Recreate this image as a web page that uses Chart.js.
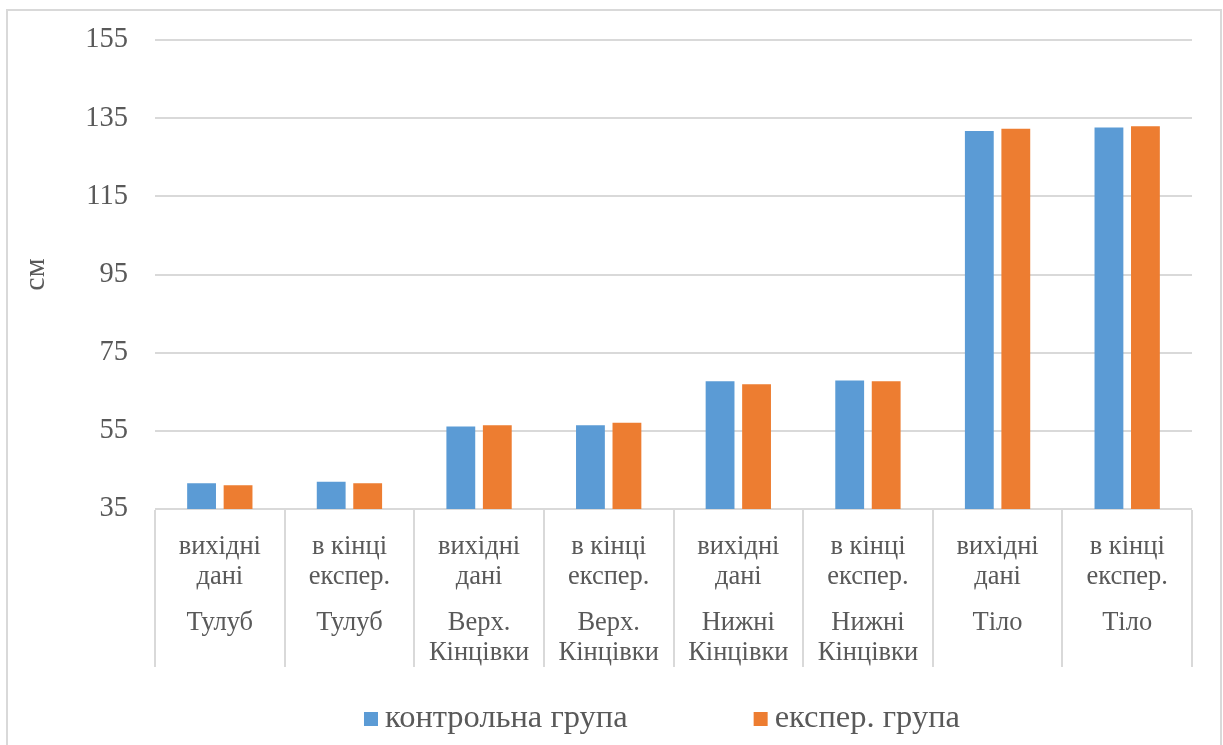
<!DOCTYPE html>
<html>
<head>
<meta charset="utf-8">
<script src="https://cdn.jsdelivr.net/npm/chart.js@4/dist/chart.umd.min.js"></script>
<style>
  html, body { margin: 0; padding: 0; background: #ffffff; }
  #wrap { width: 1223px; height: 745px; position: relative; }
</style>
</head>
<body>
<div id="wrap"><canvas id="chart" width="1223" height="745"></canvas></div>
<script>
// Stage of measurement for each bar pair
const stageLabels = [
  ['вихідні', 'дані'], ['в кінці', 'експер.'],
  ['вихідні', 'дані'], ['в кінці', 'експер.'],
  ['вихідні', 'дані'], ['в кінці', 'експер.'],
  ['вихідні', 'дані'], ['в кінці', 'експер.']
];
// Body segment (outer category level)
const segmentLabels = [
  ['Тулуб'], ['Тулуб'],
  ['Верх.', 'Кінцівки'], ['Верх.', 'Кінцівки'],
  ['Нижні', 'Кінцівки'], ['Нижні', 'Кінцівки'],
  ['Тіло'], ['Тіло']
];
const seriesNames = ['контрольна група', 'експер. група'];
const controlValues = [41.6, 42.0, 56.1, 56.4, 67.7, 67.9, 131.7, 132.6];
const experValues = [41.1, 41.6, 56.4, 57.1, 66.9, 67.7, 132.3, 132.9];
const yTicks = [35, 55, 75, 95, 115, 135, 155];
const yTitle = 'см';

const FONT = '"Liberation Serif", "Times New Roman", serif';
const TEXT = '#595959';
const LINE = '#d9d9d9';
const COLORS = ['#5b9bd5', '#ed7d31'];

// Outer frame, category separators and legend
const decor = {
  id: 'decor',
  beforeDraw(chart) {
    const ctx = chart.ctx;
    ctx.save();
    ctx.fillStyle = '#ffffff';
    ctx.fillRect(0, 0, chart.width, chart.height);
    ctx.strokeStyle = LINE;
    ctx.lineWidth = 2;
    ctx.strokeRect(7, 10, 1214, 760);
    ctx.restore();
  },
  afterDraw(chart) {
    const ctx = chart.ctx;
    const x = chart.scales.x;
    const x2 = chart.scales.x2;
    const n = chart.data.labels.length;
    const step = (x.right - x.left) / n;
    ctx.save();
    ctx.strokeStyle = LINE;
    ctx.lineWidth = 2;
    for (let i = 0; i <= n; i++) {
      const px = Math.round(x.left + i * step);
      ctx.beginPath();
      ctx.moveTo(px, chart.chartArea.bottom + 1);
      ctx.lineTo(px, x2.bottom);
      ctx.stroke();
    }
    // legend
    const boxSize = 14;
    const gapText = 7;
    const gapItem = 126;
    ctx.font = '32.5px ' + FONT;
    ctx.textBaseline = 'middle';
    ctx.textAlign = 'left';
    const items = chart.data.datasets.map(d => ({
      text: d.label, color: d.backgroundColor, w: ctx.measureText(d.label).width
    }));
    const total = items.reduce((s, it) => s + boxSize + gapText + it.w, 0) + gapItem * (items.length - 1);
    let cx = 662 - total / 2;
    const cy = 719;
    items.forEach(it => {
      ctx.fillStyle = it.color;
      ctx.fillRect(cx, cy - boxSize / 2, boxSize, boxSize);
      ctx.fillStyle = TEXT;
      ctx.fillText(it.text, cx + boxSize + gapText, cy - 1);
      cx += boxSize + gapText + it.w + gapItem;
    });
    ctx.restore();
  }
};

new Chart(document.getElementById('chart'), {
  type: 'bar',
  data: {
    labels: stageLabels,
    datasets: [
      { label: seriesNames[0], data: controlValues, backgroundColor: COLORS[0] },
      { label: seriesNames[1], data: experValues, backgroundColor: COLORS[1] }
    ]
  },
  options: {
    responsive: false,
    animation: false,
    devicePixelRatio: 1,
    layout: { padding: { top: 40, right: 31, left: 0, bottom: 78 } },
    datasets: { bar: { categoryPercentage: 0.563, barPercentage: 0.79, borderWidth: 0 } },
    plugins: { legend: { display: false }, tooltip: { enabled: false } },
    scales: {
      x: {
        type: 'category',
        position: 'bottom',
        weight: 0,
        grid: { display: false },
        border: { display: false },
        ticks: {
          color: TEXT, font: { family: FONT, size: 26.5, lineHeight: 1.13 },
          padding: 15, maxRotation: 0, autoSkip: false
        },
        afterFit(scale) { scale.height = 90; }
      },
      x2: {
        type: 'category',
        position: 'bottom',
        weight: 1,
        labels: segmentLabels,
        grid: { display: false },
        border: { display: false },
        ticks: {
          color: TEXT, font: { family: FONT, size: 26.5, lineHeight: 1.13 },
          padding: 1, maxRotation: 0, autoSkip: false
        },
        afterFit(scale) { scale.height = 68; }
      },
      y: {
        min: yTicks[0],
        max: yTicks[yTicks.length - 1],
        afterBuildTicks(scale) { scale.ticks = yTicks.map(v => ({ value: v })); },
        grid: { color: LINE, lineWidth: 2, drawTicks: false },
        border: { display: false },
        ticks: { color: TEXT, font: { family: FONT, size: 28.5, lineHeight: 0.9 }, padding: 27 },
        title: {
          display: true, text: yTitle, color: TEXT,
          font: { family: FONT, size: 30 }, padding: { top: 18, bottom: 0 }
        },
        afterFit(scale) { scale.width = 155; }
      }
    }
  },
  plugins: [decor]
});
</script>
</body>
</html>
